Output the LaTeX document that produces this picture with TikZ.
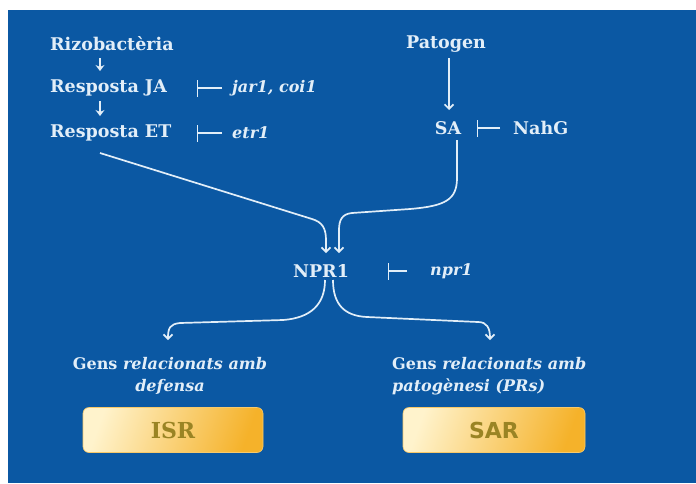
\documentclass[tikz,border=0pt]{standalone}
\usepackage{fontspec}
\setmainfont{DejaVu Serif}
\setsansfont{DejaVu Sans}
\usepackage{xcolor}
\usetikzlibrary{arrows.meta,positioning,calc}
\definecolor{bgblue}{HTML}{0B58A3}
\definecolor{flowwhite}{HTML}{E2EEF8}
\definecolor{boxlight}{HTML}{FFF3CC}
\definecolor{boxdark}{HTML}{F5B22A}
\definecolor{boxtext}{HTML}{9A8424}

\begin{document}
\begin{tikzpicture}[
  x=1pt, y=-1pt,
  lbl/.style={text=flowwhite, font=\fontsize{17.5}{20}\selectfont\bfseries, inner sep=2pt},
  lblit/.style={lbl, font=\fontsize{16}{18}\selectfont\bfseries\itshape},
  gens/.style={text=flowwhite, font=\fontsize{16}{22}\selectfont\bfseries, inner sep=0pt},
  resbox/.style={rounded corners=6pt, minimum width=180pt, minimum height=45pt,
    left color=boxlight, right color=boxdark, shading angle=70,
    draw=boxdark!70!white, line width=0.6pt, text=boxtext},
  flow/.style={flowwhite, line width=1.7pt,
    -{Straight Barb[length=4.5pt, width=9pt]}},
  step arrow/.style={flowwhite, line width=1.8pt,
    -{Stealth[length=6pt, width=9pt, inset=2pt]}},
  inhib/.style={flowwhite, line width=1.4pt, -{Bar[width=17pt]}}
]
\useasboundingbox (0,0) rectangle (696,483);
\fill[bgblue] (8,10) rectangle (696,483);
% ── Left branch: rhizobacteria ──────────────────
\node[lbl, anchor=west] (rizo) at (48,44) {Rizobactèria};
\node[lbl, anchor=west] (ja) at (48,88) {Resposta JA};
\node[lbl, anchor=west] (et) at (48,133) {Resposta ET};
\node[lblit, anchor=west] (jar) at (230,88) {jar1, coi1};
\node[lblit, anchor=west] (etr) at (230,133) {etr1};
\draw[step arrow] ($(rizo.west)+(52,14)$) -- ($(ja.west)+(52,-17)$);
\draw[step arrow] ($(ja.west)+(52,13)$) -- ($(et.west)+(52,-17)$);
\draw[inhib, shorten <=8pt] (jar.west) -- (197,88);
\draw[inhib, shorten <=8pt] (etr.west) -- (197,133);
% ── Right branch: pathogen ──────────────────────
\node[lbl] (pat) at (446,44) {Patogen};
\node[lbl] (sa) at (448,128) {SA};
\node[lbl, anchor=west] (nahg) at (511,128) {NahG};
\draw[flow] ($(pat)+(3,14)$) -- ($(sa)+(1,-18)$);
\draw[inhib, shorten <=11pt] (nahg.west) -- (477,128);
% ── NPR1 ────────────────────────────────────────
\node[lbl] (npr) at (321,271) {NPR1};
\node[lblit, anchor=west] (nprm) at (428,271) {npr1};
\draw[inhib, shorten <=21pt] (nprm.west) -- (388,271);
\draw[flow] ($(et.west)+(52,20)$) -- (312,219)
  .. controls (322,222) and (326,228) .. (326,240) -- ($(npr)+(5,-18)$);
\draw[flow] ($(sa)+(9,12)$) -- (457,178)
  .. controls (457,200) and (445,206) .. (410,209) -- (352,213)
  .. controls (342,214) and (339,220) .. (339,230) -- ($(npr)+(18,-18)$);
% ── Outputs ─────────────────────────────────────
\node[gens, align=center] (gisr) at (170,376) {Gens \textit{relacionats amb}\\\textit{defensa}};
\node[gens, align=left, anchor=west] (gsar) at (392,376) {Gens \textit{relacionats amb}\\\textit{patogènesi (PRs)}};
\node[resbox, font=\fontsize{22}{24}\selectfont\bfseries] (isr) at (173,430) {ISR};
\node[resbox, minimum width=182pt, font=\fontsize{22}{24}\selectfont\sffamily\bfseries] (sar) at (494,430) {SAR};
\draw[flow] ($(npr)+(4,9)$) .. controls (325,305) and (310,318) .. (283,320)
  -- (180,323) .. controls (170,324) and (168,328) .. ($(gisr)+(-2,-36)$);
\draw[flow] ($(npr)+(12,9)$) .. controls (333,305) and (345,316) .. (367,317)
  -- (478,322) .. controls (487,322) and (490,328) .. ($(gsar.west)+(98,-36)$);
\end{tikzpicture}
\end{document}
